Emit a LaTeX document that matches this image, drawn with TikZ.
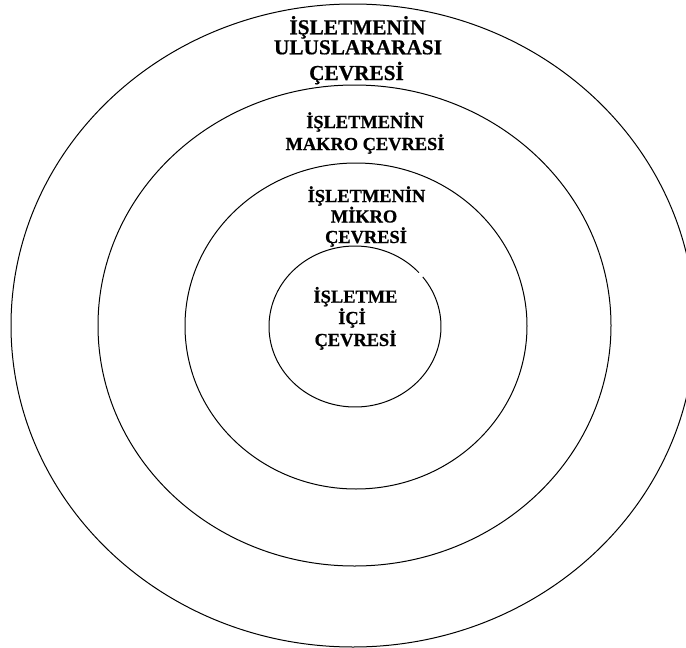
\documentclass[tikz,border=0pt]{standalone}
\usepackage{fontspec}
\setmainfont{Liberation Serif}[BoldFeatures={FakeBold=0.6}]
\begin{document}
\begin{tikzpicture}[x=1pt,y=-1pt,
  ring/.style={draw=black,line width=1pt},
  bigtxt/.style={anchor=base,inner sep=0pt,font=\bfseries\fontsize{21.3}{24}\selectfont},
  midtxt/.style={anchor=base,inner sep=0pt,font=\bfseries\fontsize{18.4}{22}\selectfont}]
\useasboundingbox (0,0) rectangle (686,648);
\clip (0,0) rectangle (686,648);
% rings
\draw[ring] (353,325.5) ellipse [x radius=342, y radius=321.5];
\draw[ring] (354.5,325.5) ellipse [x radius=256.5, y radius=240.5];
\draw[ring] (356,326) ellipse [x radius=171, y radius=163];
\draw[ring] (355,326.5) ++(-38:86 and 80.5) arc[start angle=-38, end angle=318, x radius=86, y radius=80.5];
% outer label
\node[bigtxt] (ua) at (357.5,34.3) {İŞLETMENİN};
\node[bigtxt] (ub) at (358,54.3) {ULUSLARARASI};
\node[bigtxt] (uc) at (356.5,80) {ÇEVRESİ};
% macro label
\node[midtxt] (ma) at (365,128) {İŞLETMENİN};
\node[midtxt] (mb) at (365,150) {MAKRO ÇEVRESİ};
% micro label
\node[midtxt] (ka) at (366.5,202) {İŞLETMENİN};
\node[midtxt] (kb) at (364,222.5) {MİKRO};
\node[midtxt] (kc) at (366,243) {ÇEVRESİ};
% inner label
\node[midtxt] (ia) at (355.5,302.7) {İŞLETME};
\node[midtxt] (ib) at (352,324) {İÇİ};
\node[midtxt] (ic) at (355.5,346) {ÇEVRESİ};
\end{tikzpicture}
\end{document}
